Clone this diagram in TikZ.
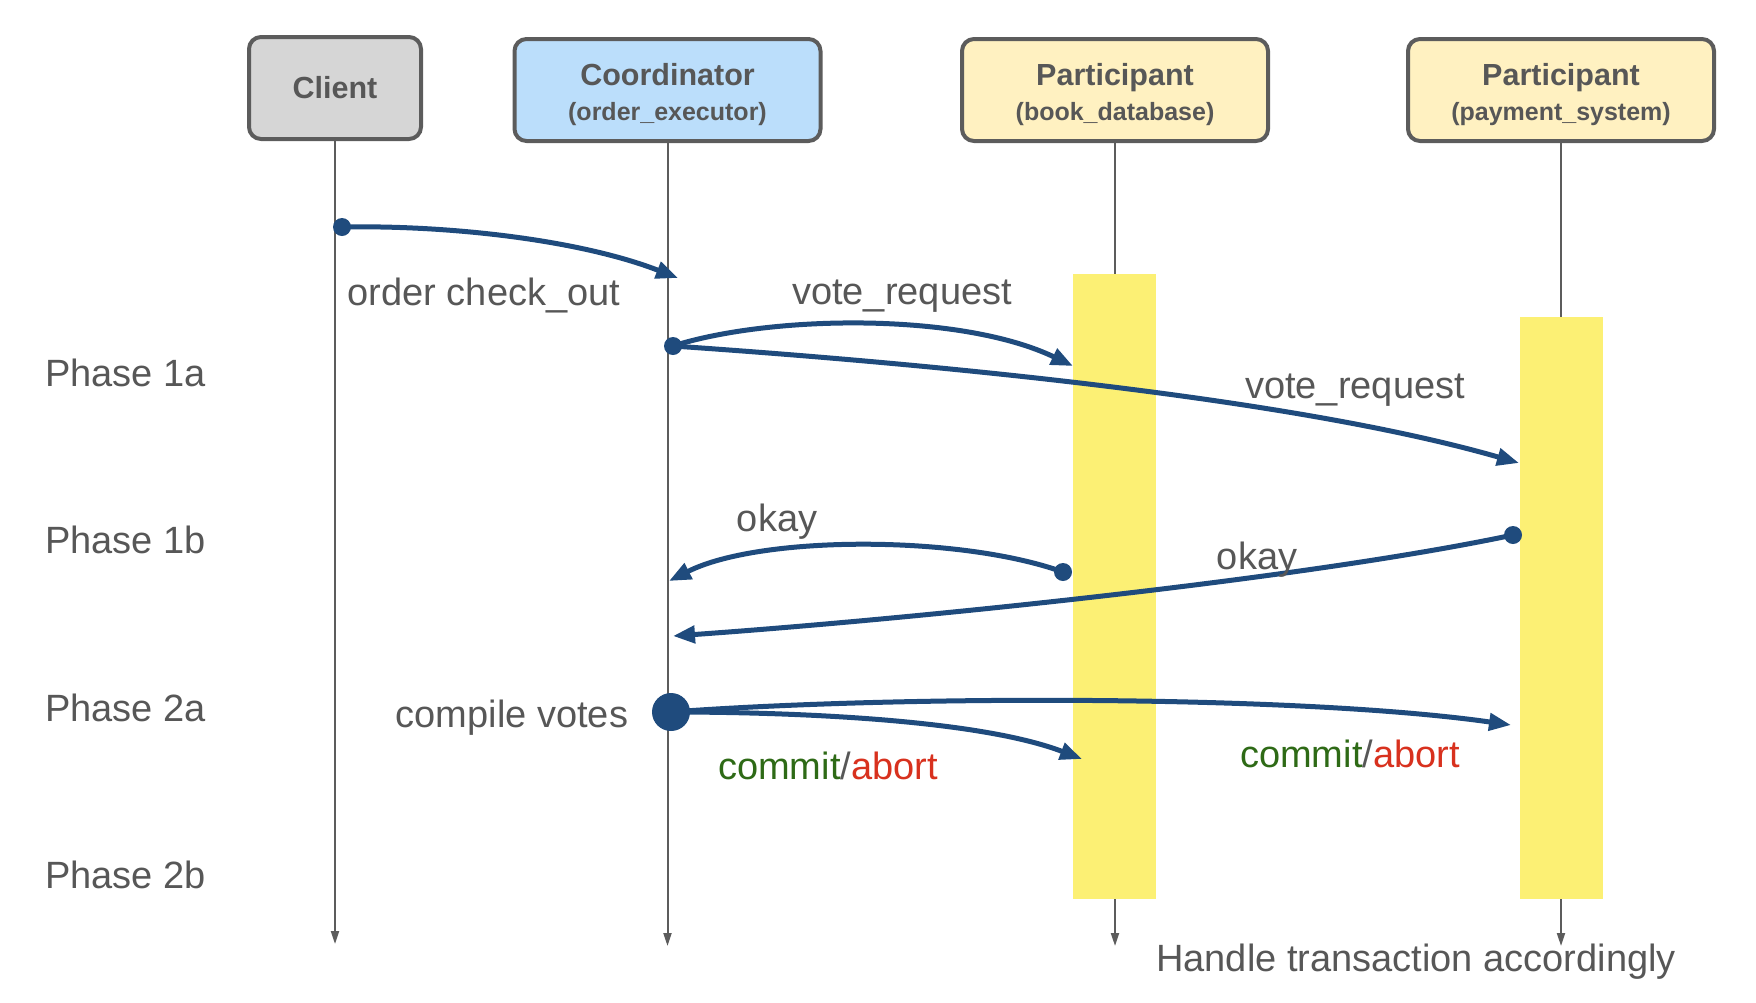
\documentclass[tikz,border=0pt]{standalone}
\usepackage{fontspec}
\setmainfont{Liberation Sans}
\usetikzlibrary{arrows.meta}
\definecolor{arr}{HTML}{1F4B7D}
\definecolor{txt}{HTML}{575757}
\definecolor{bord}{HTML}{5C5C5C}
\definecolor{clientfill}{HTML}{D6D6D6}
\definecolor{coordfill}{HTML}{BBDEFB}
\definecolor{partfill}{HTML}{FFF1C1}
\definecolor{barcol}{HTML}{FCF074}
\definecolor{cgreen}{HTML}{2E6A16}
\definecolor{cred}{HTML}{D8311E}
\newcommand{\topstrut}{\rule{0pt}{31pt}}
\begin{document}
\begin{tikzpicture}[x=1pt,y=-1pt,
  actor/.style={draw=bord, line width=4pt, rounded corners=12pt, minimum height=102pt,
    text=txt, align=center, inner sep=0pt, font=\fontsize{30.5}{35}\selectfont\bfseries},
  life/.style={draw=bord, line width=2pt, -{Triangle[length=13pt,width=8pt]}},
  barbox/.style={fill=barcol, draw=none, inner sep=0pt, minimum width=83pt},
  msg/.style={draw=arr, line width=5pt, -{Triangle[length=22pt,width=17pt]}},
  dot/.style={circle, fill=arr, draw=none, inner sep=0pt, minimum size=18pt},
  lbl/.style={text=txt, font=\fontsize{38}{44}\selectfont, inner sep=0pt}
]
\useasboundingbox (0,0) rectangle (1756,1002);

% actors
\node[actor, fill=clientfill, minimum width=172pt] (client) at (335,88) {Client};
\node[actor, fill=coordfill, minimum width=306pt] (coord) at (667.5,90)
  {\topstrut Coordinator\\{\fontsize{25}{30}\selectfont (order\_executor)}};
\node[actor, fill=partfill, minimum width=306pt] (p1) at (1115,90)
  {\topstrut Participant\\{\fontsize{25}{30}\selectfont (book\_database)}};
\node[actor, fill=partfill, minimum width=306pt] (p2) at (1561,90)
  {\topstrut Participant\\{\fontsize{25}{30}\selectfont (payment\_system)}};

% lifeline ends
\coordinate (cend) at (335,944);
\coordinate (oend) at (667.5,946);
\coordinate (p1end) at (1115,946);
\coordinate (p2end) at (1561,946);

\draw[life] (client.south) -- (cend);
\draw[life] (coord.south) -- (oend);
\draw[life] (p1.south) -- (p1end);
\draw[life] (p2.south) -- (p2end);

% activation bars
\node[barbox, minimum height=625pt] (bar1) at (1114.5,586.5) {};
\node[barbox, minimum height=582pt] (bar2) at (1561,608) {};

% phase labels
\node[lbl, anchor=west] (ph1a) at (45,373) {Phase 1a};
\node[lbl, anchor=west] (ph1b) at (45,540) {Phase 1b};
\node[lbl, anchor=west] (ph2a) at (45,708) {Phase 2a};
\node[lbl, anchor=west] (ph2b) at (45,875) {Phase 2b};

% dots and targets
\node[dot] (d1) at (342,227) {};
\coordinate (t1) at (678,278);
\node[dot] (d2) at (673,346) {};
\coordinate (t2) at (1073,366);
\coordinate (t3) at (1519,463);
\node[dot] (d4) at (1063,572) {};
\coordinate (t4) at (669,581);
\node[dot] (d5) at (1513,535) {};
\coordinate (t5) at (673,636);
\node[dot, minimum size=38pt] (d6) at (671,712) {};
\coordinate (t6a) at (1511,725);
\coordinate (t6b) at (1082,759);

% messages
\draw[msg] (d1.center) .. controls (450,225) and (580,240) .. (t1);
\draw[msg] (d2.center) .. controls (770,315) and (960,312) .. (t2);
\draw[msg] (d2.center) .. controls (950,365) and (1300,400) .. (t3);
\draw[msg] (d4.center) .. controls (960,535) and (760,535) .. (t4);
\draw[msg] (d5.center) .. controls (1300,580) and (900,620) .. (t5);
\draw[msg] (d6.center) .. controls (900,695) and (1300,695) .. (t6a);
\draw[msg] (d6.center) .. controls (800,712) and (980,720) .. (t6b);

% message labels
\node[lbl] (l1) at (484,296) {order check\_out};
\node[lbl] (l2) at (902,296) {vote\_request};
\node[lbl] (l3) at (1355,390) {vote\_request};
\node[lbl] (l4) at (777,522) {okay};
\node[lbl] (l5) at (1257,560) {okay};
\node[lbl] (l6) at (512,718) {compile votes};
\node[lbl] (l7) at (828,766) {\textcolor{cgreen}{commit}/\textcolor{cred}{abort}};
\node[lbl] (l8) at (1350,754) {\textcolor{cgreen}{commit}/\textcolor{cred}{abort}};
\node[lbl] (l9) at (1416,962) {Handle transaction accordingly};
\end{tikzpicture}
\end{document}
